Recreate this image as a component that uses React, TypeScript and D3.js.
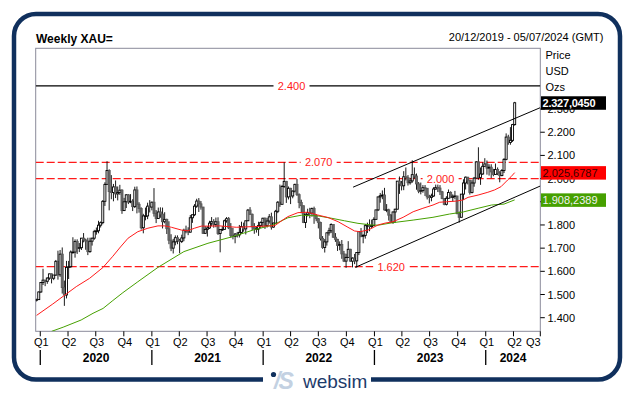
import React from "react";
import * as d3 from "d3";

// ---------- data ----------
const title = "Weekly XAU=";
const dateRangeText = "20/12/2019 - 05/07/2024 (GMT)";
const unitLines = ["Price", "USD", "Ozs"];

const firstWeek = "2019-12-20";
const lastWeek = "2024-04-05";
const firstOpen = 1476;

const closes = [
  1478, 1511,
  1552, 1562, 1557, 1571, 1589, 1570, 1584, 1643, 1585, 1674, 1530, 1498, 1617, 1620, 1683, 1683, 1729, 1700, 1702, 1743, 1735, 1730, 1685, 1730, 1743, 1771, 1775, 1799, 1810, 1902, 1975, 2035, 1944, 1940, 1964, 1934, 1940, 1950, 1862, 1900, 1930, 1899, 1902, 1879, 1951, 1889, 1871, 1788, 1839, 1839, 1881, 1877,
  1898, 1850, 1828, 1856, 1847, 1814, 1824, 1784, 1734, 1700, 1727, 1745, 1733, 1729, 1744, 1777, 1777, 1769, 1831, 1844, 1881, 1903, 1891, 1877, 1764, 1781, 1787, 1808, 1815, 1802, 1814, 1763, 1780, 1781, 1818, 1827, 1787, 1754, 1750, 1761, 1757, 1768, 1793, 1783, 1818, 1864, 1846, 1792, 1783, 1783, 1798, 1811, 1829,
  1797, 1817, 1835, 1791, 1808, 1859, 1898, 1889, 1966, 1988, 1921, 1958, 1925, 1946, 1975, 1931, 1897, 1883, 1811, 1846, 1853, 1851, 1871, 1840, 1827, 1811, 1742, 1703, 1727, 1766, 1775, 1802, 1747, 1738, 1712, 1716, 1675, 1644, 1660, 1695, 1644, 1657, 1645, 1681, 1771, 1751, 1755, 1797, 1797, 1793, 1798, 1824,
  1865, 1921, 1926, 1929, 1865, 1865, 1842, 1811, 1856, 1868, 1989, 1978, 1969, 2008, 2004, 1982, 1990, 2017, 2011, 1977, 1946, 1948, 1961, 1958, 1921, 1919, 1925, 1955, 1962, 1959, 1943, 1914, 1889, 1915, 1940, 1919, 1924, 1925, 1849, 1833, 1933, 1981, 2006, 1993, 1940, 1981, 2002, 2072, 2005, 2020, 2053, 2063,
  2045, 2049, 2029, 2018, 2039, 2024, 2013, 2035, 2083, 2179, 2156, 2165, 2233, 2327.045,
];

const highs = [
  1482, 1513,
  1553, 1611, 1563, 1574, 1590, 1591, 1584, 1649, 1689, 1692, 1703, 1560, 1645, 1645, 1690, 1747, 1738, 1738, 1722, 1744, 1765, 1741, 1745, 1745, 1745, 1779, 1789, 1818, 1815, 1907, 1984, 2075, 2040, 2015, 1977, 1992, 1966, 1973, 1954, 1917, 1933, 1933, 1933, 1911, 1965, 1966, 1898, 1876, 1848, 1875, 1896, 1907,
  1901, 1959, 1864, 1875, 1876, 1875, 1855, 1827, 1816, 1760, 1740, 1755, 1755, 1740, 1758, 1784, 1797, 1790, 1843, 1845, 1890, 1913, 1916, 1903, 1878, 1795, 1795, 1818, 1834, 1825, 1832, 1833, 1782, 1795, 1823, 1834, 1834, 1808, 1787, 1765, 1770, 1800, 1814, 1810, 1818, 1869, 1877, 1849, 1808, 1793, 1814, 1815, 1831,
  1832, 1831, 1847, 1853, 1810, 1865, 1903, 1974, 1973, 2070, 1990, 1966, 1960, 1949, 1978, 1998, 1936, 1909, 1883, 1849, 1870, 1874, 1875, 1879, 1847, 1830, 1814, 1752, 1739, 1768, 1788, 1807, 1802, 1765, 1740, 1729, 1735, 1688, 1676, 1730, 1697, 1660, 1675, 1682, 1774, 1787, 1760, 1804, 1810, 1824, 1823, 1833,
  1865, 1922, 1938, 1949, 1960, 1890, 1870, 1847, 1858, 1870, 1989, 2009, 1990, 2032, 2048, 2015, 2003, 2079, 2048, 2022, 1985, 1983, 1972, 1972, 1959, 1930, 1935, 1963, 1987, 1982, 1972, 1947, 1916, 1924, 1953, 1945, 1932, 1947, 1923, 1858, 1933, 1997, 2009, 2007, 1994, 1993, 2007, 2075, 2135, 2048, 2070, 2088,
  2078, 2062, 2062, 2042, 2065, 2048, 2032, 2041, 2088, 2195, 2189, 2222, 2236, 2331,
];

const lows = [
  1470, 1477,
  1507, 1541, 1536, 1546, 1563, 1548, 1562, 1580, 1564, 1576, 1504, 1451, 1483, 1567, 1615, 1676, 1659, 1675, 1683, 1692, 1725, 1693, 1670, 1680, 1711, 1736, 1758, 1764, 1789, 1803, 1882, 1974, 1863, 1911, 1902, 1916, 1906, 1930, 1848, 1860, 1873, 1890, 1894, 1860, 1873, 1850, 1853, 1780, 1764, 1820, 1825, 1854,
  1863, 1836, 1808, 1826, 1831, 1785, 1807, 1761, 1717, 1687, 1677, 1712, 1717, 1678, 1722, 1730, 1764, 1756, 1767, 1809, 1838, 1874, 1856, 1866, 1761, 1761, 1750, 1783, 1795, 1788, 1790, 1757, 1682, 1774, 1780, 1810, 1782, 1745, 1738, 1721, 1746, 1746, 1762, 1771, 1759, 1817, 1843, 1778, 1762, 1767, 1753, 1786, 1789,
  1783, 1789, 1806, 1780, 1788, 1806, 1851, 1878, 1889, 1960, 1895, 1910, 1890, 1915, 1940, 1925, 1872, 1850, 1808, 1787, 1837, 1829, 1836, 1805, 1816, 1785, 1733, 1697, 1681, 1711, 1754, 1765, 1745, 1727, 1688, 1691, 1654, 1640, 1615, 1659, 1641, 1617, 1631, 1616, 1670, 1747, 1721, 1741, 1765, 1773, 1785, 1795,
  1824, 1860, 1896, 1911, 1862, 1855, 1819, 1809, 1805, 1809, 1867, 1934, 1949, 1950, 1992, 1970, 1974, 1982, 2000, 1952, 1937, 1932, 1939, 1925, 1910, 1893, 1902, 1921, 1952, 1942, 1929, 1911, 1885, 1884, 1914, 1915, 1901, 1911, 1846, 1810, 1834, 1908, 1953, 1975, 1931, 1936, 1965, 2002, 1995, 1973, 2016, 2051,
  2017, 2013, 2002, 2010, 2016, 2015, 1984, 2010, 2024, 2079, 2146, 2146, 2158, 2228,
];

// moving averages (date, value)
const redMADates = [
  "2019-12-20", "2020-02-11", "2020-03-26", "2020-04-28", "2020-06-11", "2020-07-25", "2020-08-26", "2020-09-20", "2020-10-15",
  "2020-11-16", "2020-12-19", "2021-01-21", "2021-02-12", "2021-03-06", "2021-04-08", "2021-04-29", "2021-05-21", "2021-06-12",
  "2021-07-04", "2021-08-11", "2021-10-05", "2021-11-29", "2022-01-22", "2022-02-08", "2022-03-07", "2022-03-23", "2022-04-25",
  "2022-05-27", "2022-06-29", "2022-08-02", "2022-09-04", "2022-10-06", "2022-10-28", "2022-11-14", "2022-12-11", "2023-01-13",
  "2023-02-05", "2023-03-03", "2023-04-05", "2023-05-08", "2023-06-09", "2023-07-12", "2023-08-03", "2023-08-25", "2023-09-27",
  "2023-10-19", "2023-11-04", "2023-12-07", "2024-01-08", "2024-01-30", "2024-02-20", "2024-03-13", "2024-03-24", "2024-04-05",
];
const redMAValues = [
  1410, 1459, 1502, 1534, 1570, 1617, 1665, 1705, 1743,
  1771, 1786, 1796, 1796, 1790, 1778, 1775, 1786, 1795,
  1795, 1796, 1790, 1793, 1796, 1797, 1822, 1836, 1853,
  1855, 1843, 1832, 1814, 1790, 1774, 1771, 1778, 1800,
  1808, 1814, 1833, 1857, 1872, 1886, 1898, 1900, 1903,
  1908, 1919, 1929, 1941, 1951, 1965, 1994, 2008, 2025.6787,
];

const greenMADates = [
  "2020-02-07", "2020-03-16", "2020-05-14", "2020-06-22", "2020-07-25", "2020-08-26", "2020-09-28", "2020-11-16", "2021-01-21",
  "2021-04-16", "2021-07-04", "2021-09-24", "2021-11-29", "2022-02-02", "2022-03-23", "2022-05-06", "2022-06-30", "2022-08-13",
  "2022-09-25", "2022-11-08", "2022-12-22", "2023-01-13", "2023-03-03", "2023-05-08", "2023-07-12", "2023-09-04", "2023-10-19",
  "2023-12-07", "2024-01-20", "2024-03-01", "2024-04-05",
];
const greenMAValues = [
  1341, 1359, 1390, 1419, 1440, 1474, 1508, 1555, 1617,
  1685, 1721, 1750, 1778, 1800, 1831, 1842, 1839, 1829,
  1818, 1807, 1800, 1799, 1810, 1821, 1833, 1847, 1856,
  1872, 1886, 1890, 1908.2389,
];

// trend channel (date, price)
const channelUpper: [string, number][] = [["2022-10-23", 1963], ["2024-06-28", 2306]];
const channelLower: [string, number][] = [["2022-10-30", 1617], ["2024-06-28", 1968]];

// horizontal levels
const levelValues = [2400, 2070, 2000, 1620];
const levelLabels = ["2.400", "2.070", "2.000", "1.620"];
const levelDashed = [false, true, true, true];

// axes
const yTickValues = [1400, 1500, 1600, 1700, 1800, 1900, 2000, 2100, 2200, 2300];
const yTickLabels = ["1.400", "1.500", "1.600", "1.700", "1.800", "1.900", "2.000", "2.100", "2.200", "2.300"];
const quarterLabels = ["Q1", "Q2", "Q3", "Q4"];
const years = [2020, 2021, 2022, 2023, 2024];

// value badges
const badgeLabels = ["2.327,0450", "2.025,6787", "1.908,2389"];

// ---------- layout ----------
const W = 635;
const H = 395;
const plot = { left: 35.7, right: 540.3, top: 48.3, bottom: 331.3 };
const FONT = "'Liberation Sans', Arial, sans-serif";
const RED = "#ff1a1a";
const GREEN = "#46a000";
const NAVY = "#10305d";

const parse = d3.timeParse("%Y-%m-%d");

export default function App() {
  React.useEffect(() => {
    document.body.style.margin = "0";
  }, []);

  const x = d3
    .scaleTime()
    .domain([parse("2019-12-17")!, parse("2024-06-28")!])
    .range([plot.left, plot.right]);
  const y = d3.scaleLinear().domain([1341.3, 2562]).range([plot.bottom, plot.top]);

  const weeks = d3.timeFriday.range(parse(firstWeek)!, d3.timeDay.offset(parse(lastWeek)!, 1));
  const candles = weeks.map((d, i) => {
    const o = i === 0 ? firstOpen : closes[i - 1];
    const c = closes[i];
    return {
      d,
      o,
      c,
      h: Math.max(highs[i], o, c),
      l: Math.min(lows[i], o, c),
    };
  });

  const maLine = d3
    .line<[Date, number]>()
    .x((p) => x(p[0]))
    .y((p) => y(p[1]));
  const redPts: [Date, number][] = redMADates.map((s, i) => [parse(s)!, redMAValues[i]]);
  const greenPts: [Date, number][] = greenMADates.map((s, i) => [parse(s)!, greenMAValues[i]]);

  const quarters = d3.timeMonth.every(3)!.range(parse("2020-01-01")!, parse("2024-07-02")!);

  const labelDates = ["2022-04-04", "2022-07-02", "2023-08-06", "2023-02-25"];

  const badgeValues = [closes[closes.length - 1], redMAValues[redMAValues.length - 1], greenMAValues[greenMAValues.length - 1]];
  const badgeFill = ["#000000", "#ff0000", GREEN];
  const badgeText = ["#ffffff", "#3a0000", "#f2f2f2"];
  const badgeY = badgeValues.map((v) => y(v));
  // a tick label fully hidden behind a badge is not drawn
  const tickHidden = (v: number) => badgeY.some((by) => Math.abs(by - y(v)) < 2);

  return (
    <svg width={W} height={H} style={{ position: "absolute", left: 0, top: 0, background: "#fff" }} fontFamily={FONT}>
      <defs>
        <clipPath id="plotClip">
          <rect x={plot.left} y={plot.top} width={plot.right - plot.left} height={plot.bottom - plot.top} />
        </clipPath>
      </defs>
      <rect x={0} y={0} width={W} height={H} fill="#fff" />

      {/* outer frame */}
      <rect x={14} y={14} width={606} height={365.5} rx={22} ry={22} fill="none" stroke={NAVY} strokeWidth={4.5} />

      {/* header */}
      <text x={36} y={42.5} fontSize={12} fontWeight="bold" fill="#000">{title}</text>
      <text x={603.5} y={40.7} fontSize={11} textAnchor="end" fill="#000">{dateRangeText}</text>
      {unitLines.map((t, i) => (
        <text key={t} x={545.5} y={58.5 + i * 16} fontSize={11} fill="#000">{t}</text>
      ))}

      {/* plot border */}
      <rect x={plot.left} y={plot.top} width={plot.right - plot.left} height={plot.bottom - plot.top} fill="#fff" stroke="#8a8a9a" strokeWidth={1} />

      <g clipPath="url(#plotClip)">
        {/* horizontal levels */}
        {levelValues.map((v, i) => (
          <line
            key={v}
            x1={plot.left}
            x2={plot.right}
            y1={y(v)}
            y2={y(v)}
            stroke={levelDashed[i] ? RED : "#000"}
            strokeWidth={1.2}
            strokeDasharray={levelDashed[i] ? "8,3" : undefined}
          />
        ))}

        {/* candles */}
        {candles.map((k, i) => {
          const cx = x(k.d);
          const up = k.c >= k.o;
          const yt = y(Math.max(k.o, k.c));
          const yb = y(Math.min(k.o, k.c));
          return (
            <g key={i}>
              <line x1={cx} x2={cx} y1={y(k.h)} y2={y(k.l)} stroke="#000" strokeWidth={0.9} />
              <rect
                x={cx - 1}
                y={yt}
                width={2}
                height={Math.max(0.6, yb - yt)}
                fill={up ? "#fff" : "#6a6a6a"}
                stroke={up ? "#000" : "#5a5a5a"}
                strokeWidth={0.9}
              />
            </g>
          );
        })}

        {/* moving averages */}
        <path d={maLine(greenPts) || ""} fill="none" stroke={GREEN} strokeWidth={1} />
        <path d={maLine(redPts) || ""} fill="none" stroke={RED} strokeWidth={1} />

        {/* channel */}
        {[channelUpper, channelLower].map((seg, i) => (
          <line
            key={i}
            x1={x(parse(seg[0][0])!)}
            y1={y(seg[0][1])}
            x2={x(parse(seg[1][0])!)}
            y2={y(seg[1][1])}
            stroke="#000"
            strokeWidth={1}
          />
        ))}

        {/* level labels */}
        {levelValues.map((v, i) => {
          const cx = x(parse(labelDates[i])!);
          return (
            <g key={"l" + v}>
              <rect x={cx - 18} y={y(v) - 6} width={36} height={12} fill="#fff" />
              <text x={cx} y={y(v) + 4} fontSize={11} textAnchor="middle" fill={RED}>
                {levelLabels[i]}
              </text>
            </g>
          );
        })}
      </g>

      {/* right axis */}
      {yTickValues.map((v, i) => (
        <g key={v}>
          <line x1={plot.right} x2={plot.right + 4.5} y1={y(v)} y2={y(v)} stroke="#000" strokeWidth={1} />
          {!tickHidden(v) && (
            <text x={547.5} y={y(v) + 4} fontSize={11} fill="#000">{yTickLabels[i]}</text>
          )}
        </g>
      ))}

      {/* badges */}
      {badgeValues.map((v, i) => (
        <g key={i}>
          <rect x={541} y={y(v) - 6.5} width={65} height={13.5} fill={badgeFill[i]} />
          <text x={542.5} y={y(v) + 4.3} fontSize={11} fill={badgeText[i]} fontWeight={i === 0 ? "bold" : "normal"} textLength={i === 0 ? 53 : undefined}>
            {badgeLabels[i]}
          </text>
        </g>
      ))}

      {/* bottom axis */}
      {quarters.map((q, i) => {
        const qx = Math.min(x(q), plot.right);
        const lab = quarterLabels[Math.floor(q.getMonth() / 3)];
        const tx = x(q) + 7 > plot.right ? plot.right - 7 : x(q) + 1;
        return (
          <g key={i}>
            <line x1={qx} x2={qx} y1={plot.bottom} y2={plot.bottom + 5} stroke="#000" strokeWidth={1} />
            <text x={tx} y={346} fontSize={11} textAnchor="middle" fill="#000">{lab}</text>
          </g>
        );
      })}
      {years.map((yr) => {
        const s = Math.max(x(new Date(yr, 0, 1)), plot.left);
        const e = Math.min(x(new Date(yr + 1, 0, 1)), plot.right);
        return (
          <g key={yr}>
            <line x1={x(new Date(yr, 0, 1))} x2={x(new Date(yr, 0, 1))} y1={350} y2={365} stroke="#000" strokeWidth={1.3} />
            <text x={(s + e) / 2} y={362} fontSize={12} fontWeight="bold" textAnchor="middle" fill="#000">{yr}</text>
          </g>
        );
      })}

      {/* logo */}
      <rect x={263} y={372} width={108} height={14} fill="#fff" />
      <circle cx={273.5} cy={374.5} r={2.6} fill={NAVY} />
      <text x={274} y={389} fontSize={23} fontWeight="bold" fontStyle="italic" fill="#c3d1e2" letterSpacing={-2}>/S</text>
      <text x={303} y={388} fontSize={19} fill="#1d3b6b">websim</text>
    </svg>
  );
}
